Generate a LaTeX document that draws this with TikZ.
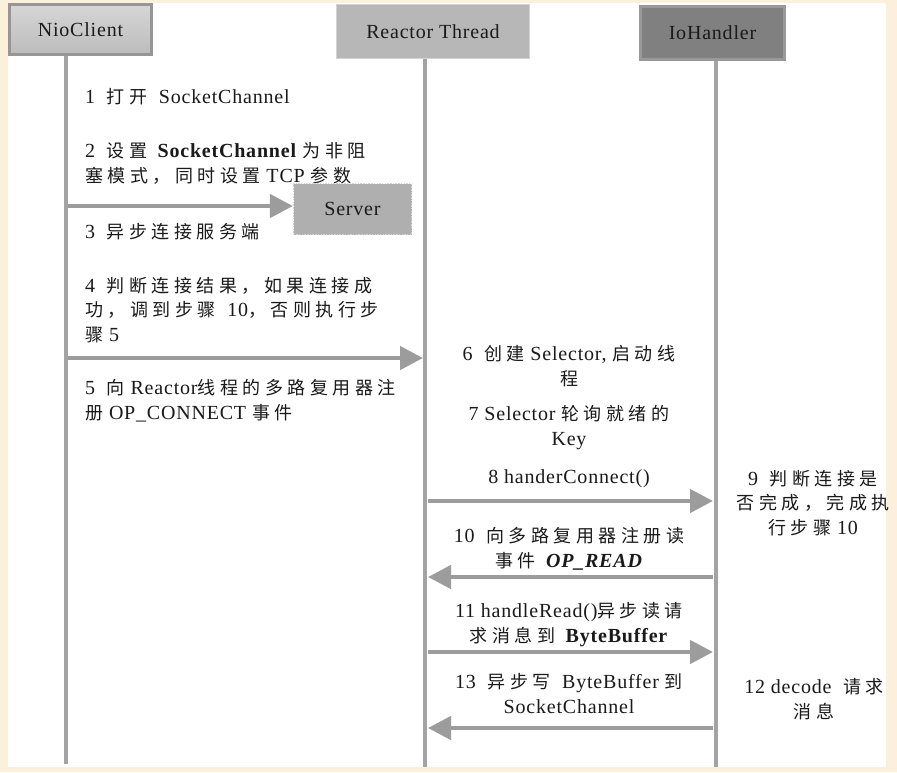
\documentclass[tikz,border=0pt]{standalone}
\usepackage{fontspec}
\setmainfont{Liberation Serif}[LetterSpace=4]
\newfontfamily\cjk{Noto Sans CJK SC}[Scale=0.9,LetterSpace=25]
\newcommand{\zh}[1]{{\cjk #1}}
\usetikzlibrary{arrows.meta,positioning}
\definecolor{Cream}{HTML}{FAF0DC}
\definecolor{LifeGrey}{HTML}{A3A3A3}
\definecolor{ArrowGrey}{HTML}{9C9C9C}
\definecolor{EdgeGrey}{HTML}{969696}
\definecolor{ClientTop}{HTML}{D6D6D6}
\definecolor{ClientBottom}{HTML}{BCBCBC}
\definecolor{ThreadGrey}{HTML}{B7B7B7}
\definecolor{ThreadEdge}{HTML}{D2D2D2}
\definecolor{HandlerGrey}{HTML}{808080}
\definecolor{HandlerEdge}{HTML}{999999}
\definecolor{ServerGrey}{HTML}{AFAFAF}
\definecolor{ServerEdge}{HTML}{D4D4D4}
\definecolor{Ink}{HTML}{1A1A1A}

\begin{document}
\begin{tikzpicture}[
    x=1pt,y=-1pt,
    head/.style={inner sep=0pt,font=\fontsize{20}{24}\selectfont,text=Ink},
    lifeline/.style={line width=4pt,color=LifeGrey},
    arrow/.style={-{Triangle[length=23pt,width=23pt]},line width=4.5pt,color=ArrowGrey},
    note/.style={inner sep=0pt,align=left,anchor=base west,
      font=\fontsize{20}{24.5}\selectfont,text=Ink},
    cnote/.style={note,align=center,anchor=base}
  ]
  % page and panel
  \fill[Cream] (0,0) rectangle (897,772);
  \fill[white] (8,3) rectangle (886,767);

  % lifelines
  \coordinate (nioTop) at (66,56);
  \coordinate (nioBot) at (66,764);
  \coordinate (rtTop) at (425,59);
  \coordinate (rtBot) at (425,767);
  \coordinate (ioTop) at (716,61);
  \coordinate (ioBot) at (716,767);
  \draw[lifeline] (nioTop) -- (nioBot);
  \draw[lifeline] (rtTop) -- (rtBot);
  \draw[lifeline] (ioTop) -- (ioBot);

  % heads
  \node[head,draw=EdgeGrey,line width=3pt,top color=ClientTop,bottom color=ClientBottom,
    minimum width=142,minimum height=50] (nio) at (80.5,29.5) {NioClient};
  \node[head,draw=ThreadEdge,line width=1pt,fill=ThreadGrey,
    minimum width=193,minimum height=54] (rt) at (433,31.5) {Reactor Thread};
  \node[head,draw=HandlerEdge,line width=3pt,fill=HandlerGrey,
    minimum width=144,minimum height=53] (io) at (712.5,33) {IoHandler};

  % client side notes (anchored at the last line)
  \node[note] (n1) at (85,103) {1~~\zh{打开}~~SocketChannel};
  \node[note] (n2) at (85,182) {2~~\zh{设置} \textbf{SocketChannel} \zh{为非阻}\\
    \zh{塞模式，同时设置} TCP \zh{参数}};
  \node[note] (n3) at (85,238) {3~~\zh{异步连接服务端}};
  \node[note] (n4) at (85,341) {4~~\zh{判断连接结果，如果连接成}\\
    \zh{功，调到步骤}~~10\zh{，否则执行步}\\\zh{骤} 5};
  \node[note] (n5) at (85,419) {5~~\zh{向}~Reactor\zh{线程的多路复用器注}\\
    \zh{册} OP\_CONNECT \zh{事件}};

  % server
  \node[head,draw=ServerEdge,line width=1.2pt,dash pattern=on 1.5pt off 1.2pt,fill=ServerGrey,
    minimum width=118,minimum height=51] (server) at (352.5,209) {Server};
  \coordinate (nio3) at (68,206);
  \draw[arrow] (nio3) -- (nio3 -| server.west);

  \coordinate (nio4) at (68,358);
  \coordinate (rt4) at (423,358);
  \draw[arrow] (nio4) -- (rt4);

  % reactor side notes
  \node[cnote] (n6) at (569,385) {6~~\zh{创建} Selector, \zh{启动线}\\\zh{程}};
  \node[cnote] (n7) at (569,445) {7 Selector \zh{轮询就绪的}\\Key};
  \node[cnote] (n8) at (569,483) {8 handerConnect()};
  \node[cnote] (n10) at (569,567) {10~~\zh{向多路复用器注册读}\\
    \zh{事件} \textbf{\textit{OP\_READ}}};
  \node[cnote] (n11) at (569,642) {11 handleRead()\zh{异步读请}\\
    \zh{求消息到} \textbf{ByteBuffer}};
  \node[cnote] (n13) at (569,713) {13~~\zh{异步写}~~ByteBuffer \zh{到}\\SocketChannel};

  % handler side notes
  \node[cnote] (n9) at (813,534) {9~~\zh{判断连接是}\\\zh{否完成，完成执}\\\zh{行步骤} 10};
  \node[cnote] (n12) at (814,718) {12 decode~~\zh{请求}\\\zh{消息}};

  % messages
  \coordinate (rt8) at (428,501);
  \coordinate (io8) at (713,501);
  \draw[arrow] (rt8) -- (io8);
  \coordinate (io10) at (713,577);
  \coordinate (rt10) at (428,577);
  \draw[arrow] (io10) -- (rt10);
  \coordinate (rt11) at (428,652);
  \coordinate (io11) at (713,652);
  \draw[arrow] (rt11) -- (io11);
  \coordinate (io13) at (713,728);
  \coordinate (rt13) at (428,728);
  \draw[arrow] (io13) -- (rt13);
\end{tikzpicture}
\end{document}
